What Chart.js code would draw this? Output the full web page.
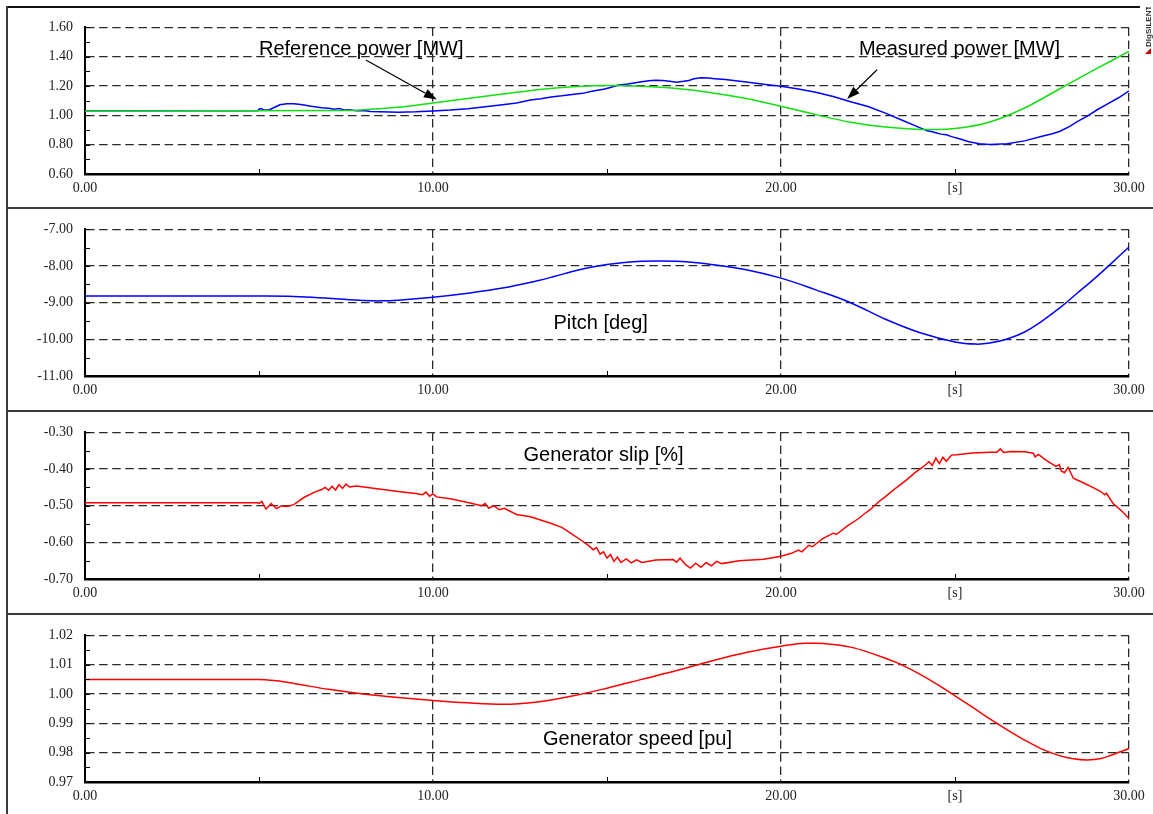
<!DOCTYPE html>
<html>
<head>
<meta charset="utf-8">
<script src="https://cdn.jsdelivr.net/npm/chart.js@4.4.0/dist/chart.umd.min.js"></script>
<style>
  html, body { margin: 0; padding: 0; background: #fff; }
  body { position: relative; width: 1153px; height: 814px; overflow: hidden; }
  canvas { position: absolute; left: 0; }
  .rule { position: absolute; background: #3a3a3a; }
</style>
</head>
<body>
<div class="rule" style="left:6px; top:6px; width:1134px; height:2px; background:#111"></div>
<div class="rule" style="left:6px; top:6px; width:2px; height:808px"></div>
<div class="rule" style="left:6px; top:207px; width:1147px; height:2px"></div>
<div class="rule" style="left:6px; top:410px; width:1147px; height:2px"></div>
<div class="rule" style="left:6px; top:613px; width:1147px; height:2px"></div>

<canvas id="power" width="1153" height="200" style="top:7px"></canvas>
<canvas id="pitch" width="1153" height="200" style="top:209px"></canvas>
<canvas id="slip" width="1153" height="200" style="top:412px"></canvas>
<canvas id="speed" width="1153" height="199" style="top:615px"></canvas>

<script>
// ---- time axis ----
const timeTicks = [0, 10, 20, 25, 30];
const timeTickText = ['0.00', '10.00', '20.00', '[s]', '30.00'];

// ---- active power [MW] ----
const refPowerTime = [0, 7.5, 8, 9, 10, 11, 12, 13, 14, 15, 16, 17, 18, 19, 20, 21, 22, 23, 24, 24.5, 25, 26, 27, 28, 29, 30];
const refPowerValues = [1.03, 1.033, 1.038, 1.055, 1.085, 1.115, 1.145, 1.175, 1.195, 1.203, 1.198, 1.183, 1.155, 1.115, 1.062, 1.005, 0.953, 0.92, 0.904, 0.903, 0.91, 0.955, 1.05, 1.18, 1.31, 1.437];

const measPowerTime = [0, 4.97, 5.0, 5.06, 5.15, 5.3, 5.45, 5.6, 5.8, 6.0, 6.2, 6.5, 6.8, 7.0, 7.15, 7.3, 7.45, 7.6, 7.8, 8.0, 8.2, 8.5, 9.0, 9.5, 10.0, 10.5, 11.0, 11.5, 12.0, 12.4, 12.8, 13.1, 13.4, 13.7, 14.0, 14.3, 14.6, 14.9, 15.1, 15.3, 15.6, 15.9, 16.2, 16.4, 16.6, 16.8, 17.0, 17.2, 17.35, 17.5, 17.7, 17.9, 18.1, 18.4, 18.7, 19.0, 19.5, 20.0, 20.5, 21.0, 21.5, 22.0, 22.5, 23.0, 23.5, 24.0, 24.2, 24.35, 24.5, 24.6, 24.75, 24.9, 25.1, 25.4, 25.7, 26.0, 26.5, 27.0, 27.5, 27.8, 28.0, 28.3, 28.5, 28.8, 29.1, 29.4, 29.7, 30.0];
const measPowerValues = [1.032, 1.032, 1.042, 1.046, 1.036, 1.038, 1.055, 1.072, 1.079, 1.079, 1.074, 1.062, 1.052, 1.048, 1.042, 1.046, 1.036, 1.039, 1.031, 1.033, 1.026, 1.024, 1.022, 1.024, 1.03, 1.036, 1.045, 1.058, 1.072, 1.085, 1.104, 1.114, 1.126, 1.133, 1.142, 1.15, 1.166, 1.178, 1.19, 1.205, 1.214, 1.226, 1.236, 1.24, 1.238, 1.233, 1.226, 1.232, 1.238, 1.25, 1.256, 1.254, 1.25, 1.244, 1.236, 1.228, 1.212, 1.198, 1.18, 1.158, 1.128, 1.093, 1.06, 1.015, 0.965, 0.915, 0.895, 0.888, 0.878, 0.872, 0.868, 0.855, 0.842, 0.82, 0.806, 0.801, 0.806, 0.826, 0.858, 0.874, 0.89, 0.925, 0.955, 0.995, 1.04, 1.08, 1.12, 1.167];

// ---- pitch angle [deg] ----
const pitchTime = [0, 5, 6, 7, 8, 8.5, 9, 10, 11, 12, 13, 13.5, 14, 14.5, 15, 15.5, 16, 16.5, 17, 17.5, 18, 19, 20, 21, 22, 23, 24, 25, 25.6, 26, 26.5, 27, 27.5, 28, 28.5, 29, 29.5, 30];
const pitchValues = [-8.82, -8.82, -8.83, -8.88, -8.94, -8.95, -8.93, -8.85, -8.74, -8.6, -8.4, -8.28, -8.15, -8.04, -7.96, -7.905, -7.872, -7.862, -7.872, -7.9, -7.955, -8.1, -8.33, -8.65, -9.0, -9.45, -9.82, -10.07, -10.13, -10.1, -9.99, -9.8, -9.5, -9.15, -8.75, -8.35, -7.92, -7.48];

// ---- generator slip [%] ----
const slipTime = [0, 4.95, 5.0, 5.08, 5.2, 5.35, 5.5, 5.65, 5.8, 6.0, 6.3, 6.6, 6.8, 6.9, 7.0, 7.1, 7.2, 7.3, 7.4, 7.5, 7.6, 7.8, 8.5, 9.0, 9.5, 9.7, 9.8, 9.9, 10.0, 10.1, 10.5, 11.0, 11.4, 11.5, 11.6, 11.75, 11.9, 12.05, 12.4, 12.8, 13.36, 13.7, 13.94, 14.3, 14.5, 14.6, 14.7, 14.8, 14.9, 15.0, 15.1, 15.2, 15.3, 15.4, 15.55, 15.7, 15.85, 16.0, 16.4, 16.9, 17.0, 17.1, 17.25, 17.4, 17.55, 17.7, 17.85, 18.0, 18.15, 18.3, 18.8, 19.5, 20.0, 20.3, 20.5, 20.6, 20.8, 20.9, 21.2, 21.5, 21.6, 21.9, 22.2, 22.4, 22.56, 22.8, 23.0, 23.13, 23.3, 23.6, 23.85, 24.1, 24.25, 24.35, 24.45, 24.55, 24.65, 24.75, 24.9, 25.05, 25.5, 26.0, 26.2, 26.3, 26.4, 26.6, 27.0, 27.25, 27.3, 27.4, 27.6, 27.9, 28.0, 28.05, 28.15, 28.25, 28.4, 28.7, 29.0, 29.2, 29.3, 29.35, 29.55, 29.8, 30.0];
const slipValues = [-0.492, -0.492, -0.494, -0.488, -0.509, -0.494, -0.508, -0.5, -0.502, -0.497, -0.477, -0.463, -0.456, -0.45, -0.458, -0.447, -0.457, -0.443, -0.453, -0.441, -0.449, -0.446, -0.455, -0.461, -0.467, -0.47, -0.463, -0.474, -0.468, -0.476, -0.481, -0.491, -0.5, -0.494, -0.507, -0.5, -0.511, -0.507, -0.524, -0.53, -0.547, -0.559, -0.574, -0.597, -0.611, -0.62, -0.614, -0.632, -0.626, -0.643, -0.633, -0.652, -0.64, -0.655, -0.645, -0.656, -0.648, -0.655, -0.648, -0.647, -0.654, -0.643, -0.66, -0.67, -0.657, -0.668, -0.655, -0.664, -0.652, -0.658, -0.65, -0.646, -0.638, -0.63, -0.621, -0.626, -0.608, -0.612, -0.59, -0.575, -0.578, -0.556, -0.537, -0.522, -0.511, -0.49, -0.475, -0.465, -0.452, -0.43, -0.41, -0.393, -0.38, -0.39, -0.37, -0.385, -0.368, -0.379, -0.362, -0.361, -0.356, -0.354, -0.354, -0.345, -0.355, -0.352, -0.353, -0.357, -0.367, -0.36, -0.375, -0.393, -0.388, -0.405, -0.41, -0.395, -0.425, -0.438, -0.452, -0.462, -0.47, -0.466, -0.495, -0.515, -0.535];

// ---- generator speed [pu] ----
const speedTime = [0, 5, 5.5, 6, 7, 8, 9, 10, 11, 12, 13, 14, 15, 16, 17, 18, 19, 20, 20.7, 21, 21.5, 22, 22.5, 23, 23.5, 24, 24.5, 25, 25.5, 26, 26.5, 27, 27.5, 28, 28.4, 28.8, 29.2, 29.5, 30];
const speedValues = [1.005, 1.005, 1.0045, 1.0036, 1.0016, 1.0, 0.9988, 0.9978, 0.997, 0.9965, 0.9973, 0.9993, 1.002, 1.005, 1.008, 1.0113, 1.0142, 1.0163, 1.0173, 1.0173, 1.0169, 1.016, 1.0143, 1.0122, 1.0098, 1.0067, 1.0032, 0.9994, 0.9955, 0.9915, 0.9878, 0.9843, 0.9812, 0.979, 0.9779, 0.9775, 0.978, 0.9792, 0.9814];

const toPoints = (t, v) => t.map((x, i) => ({ x, y: v[i] }));

const TICK_FONT = { family: 'Liberation Serif', size: 14 };
const NOTE_FONT = '20px "Liberation Sans"';
const GRID_DASH = [8.5, 4.6];

// inward tick marks, in-plot notes, arrows and the logo
const panelMarks = {
  id: 'panelMarks',
  afterDraw(chart, args, opts) {
    const { ctx, scales: { x, y } } = chart;
    ctx.save();
    ctx.strokeStyle = '#000';
    ctx.lineWidth = 1;
    ctx.beginPath();
    y.ticks.forEach(t => {
      const py = Math.round(y.getPixelForValue(t.value)) + 0.5;
      ctx.moveTo(x.left, py);
      ctx.lineTo(x.left + 5, py);
    });
    x.ticks.forEach(t => {
      if (t.value % 10 !== 5) return;
      const px = Math.round(x.getPixelForValue(t.value)) + 0.5;
      ctx.moveTo(px, y.bottom);
      ctx.lineTo(px, y.bottom - 5);
    });
    ctx.stroke();

    ctx.fillStyle = '#000';
    ctx.font = NOTE_FONT;
    ctx.textAlign = 'left';
    ctx.textBaseline = 'alphabetic';
    (opts.notes || []).forEach(n => {
      ctx.fillText(n.text, x.getPixelForValue(n.x), y.getPixelForValue(n.y));
    });

    (opts.arrows || []).forEach(a => {
      const x1 = x.getPixelForValue(a.from[0]), y1 = y.getPixelForValue(a.from[1]);
      const x2 = x.getPixelForValue(a.to[0]), y2 = y.getPixelForValue(a.to[1]);
      const ang = Math.atan2(y2 - y1, x2 - x1);
      const len = 13, half = 4.5;
      const bx = x2 - len * Math.cos(ang), by = y2 - len * Math.sin(ang);
      ctx.beginPath();
      ctx.lineWidth = 1.2;
      ctx.moveTo(x1, y1);
      ctx.lineTo(bx, by);
      ctx.stroke();
      ctx.beginPath();
      ctx.moveTo(x2, y2);
      ctx.lineTo(bx + half * Math.sin(ang), by - half * Math.cos(ang));
      ctx.lineTo(bx - half * Math.sin(ang), by + half * Math.cos(ang));
      ctx.closePath();
      ctx.fill();
    });

    if (opts.logo) {
      ctx.save();
      ctx.translate(1151, 40);
      ctx.rotate(-Math.PI / 2);
      ctx.font = 'bold 8px "Liberation Sans"';
      ctx.fillStyle = '#333';
      ctx.textBaseline = 'alphabetic';
      ctx.fillText('DIgSILENT', 0, 0);
      ctx.restore();
      ctx.fillStyle = '#c00';
      ctx.beginPath();
      ctx.moveTo(1151, 41);
      ctx.lineTo(1151, 47);
      ctx.lineTo(1145, 47);
      ctx.closePath();
      ctx.fill();
    }
    ctx.restore();
  }
};

function makePanel(id, cfg) {
  const isMajor = v => Math.abs(Math.round((v - cfg.min) / cfg.major) - (v - cfg.min) / cfg.major) < 1e-6;
  const canvas = document.getElementById(id);
  return new Chart(canvas, {
    type: 'line',
    data: { datasets: cfg.datasets },
    options: {
      responsive: false,
      animation: false,
      events: [],
      layout: { padding: { top: 19, right: 24, left: 0, bottom: 0 } },
      elements: { point: { radius: 0 }, line: { borderWidth: 1.5 } },
      plugins: {
        legend: { display: false },
        tooltip: { enabled: false },
        panelMarks: { notes: cfg.notes, arrows: cfg.arrows, logo: cfg.logo }
      },
      scales: {
        x: {
          type: 'linear',
          min: 0,
          max: 30,
          afterFit: s => { s.height = canvas.height - 19 - 148; },
          ticks: {
            stepSize: 5,
            autoSkip: false,
            maxRotation: 0,
            padding: 6,
            color: '#222',
            font: TICK_FONT,
            callback: v => {
              const i = timeTicks.indexOf(v);
              return i >= 0 ? timeTickText[i] : '';
            }
          },
          grid: {
            drawTicks: false,
            lineWidth: 1.3,
            color: c => (c.tick && [10, 20, 30].includes(c.tick.value)) ? '#2a2a2a' : 'transparent'
          },
          border: { display: true, color: '#000', width: 2.5, dash: GRID_DASH }
        },
        y: {
          min: cfg.min,
          max: cfg.max,
          afterFit: s => { s.width = 85; },
          ticks: {
            stepSize: cfg.major / 2,
            autoSkip: false,
            padding: 12,
            color: '#222',
            font: TICK_FONT,
            callback: v => isMajor(v) ? v.toFixed(2) : ''
          },
          grid: {
            drawTicks: false,
            lineWidth: 1.3,
            color: c => (c.tick && isMajor(c.tick.value) && Math.abs(c.tick.value - cfg.min) > 1e-9) ? '#2a2a2a' : 'transparent'
          },
          border: { display: true, color: '#000', width: 2, dash: GRID_DASH }
        }
      }
    },
    plugins: [panelMarks]
  });
}

// smooth simulated signals get a spline, measured/noisy ones stay straight
const spline = { tension: 0.4 };
const monotone = { cubicInterpolationMode: 'monotone' };

makePanel('power', {
  min: 0.6, max: 1.6, major: 0.2,
  datasets: [
    { data: toPoints(refPowerTime, refPowerValues), borderColor: '#12e012', ...monotone },
    { data: toPoints(measPowerTime, measPowerValues), borderColor: '#0000ff', tension: 0 }
  ],
  notes: [
    { text: 'Reference power [MW]', x: 5.0, y: 1.41 },
    { text: 'Measured power [MW]', x: 22.24, y: 1.41 }
  ],
  arrows: [
    { from: [8.07, 1.378], to: [10.11, 1.108] },
    { from: [22.76, 1.311], to: [21.9, 1.111] }
  ],
  logo: true
});

makePanel('pitch', {
  min: -11, max: -7, major: 1,
  datasets: [
    { data: toPoints(pitchTime, pitchValues), borderColor: '#0000ff', ...spline }
  ],
  notes: [{ text: 'Pitch [deg]', x: 13.46, y: -9.72 }]
});

makePanel('slip', {
  min: -0.7, max: -0.3, major: 0.1,
  datasets: [
    { data: toPoints(slipTime, slipValues), borderColor: '#ff0000', tension: 0 }
  ],
  notes: [{ text: 'Generator slip [%]', x: 12.6, y: -0.379 }]
});

makePanel('speed', {
  min: 0.97, max: 1.02, major: 0.01,
  datasets: [
    { data: toPoints(speedTime, speedValues), borderColor: '#ff0000', ...monotone }
  ],
  notes: [{ text: 'Generator speed [pu]', x: 13.16, y: 0.9825 }]
});
</script>
</body>
</html>
